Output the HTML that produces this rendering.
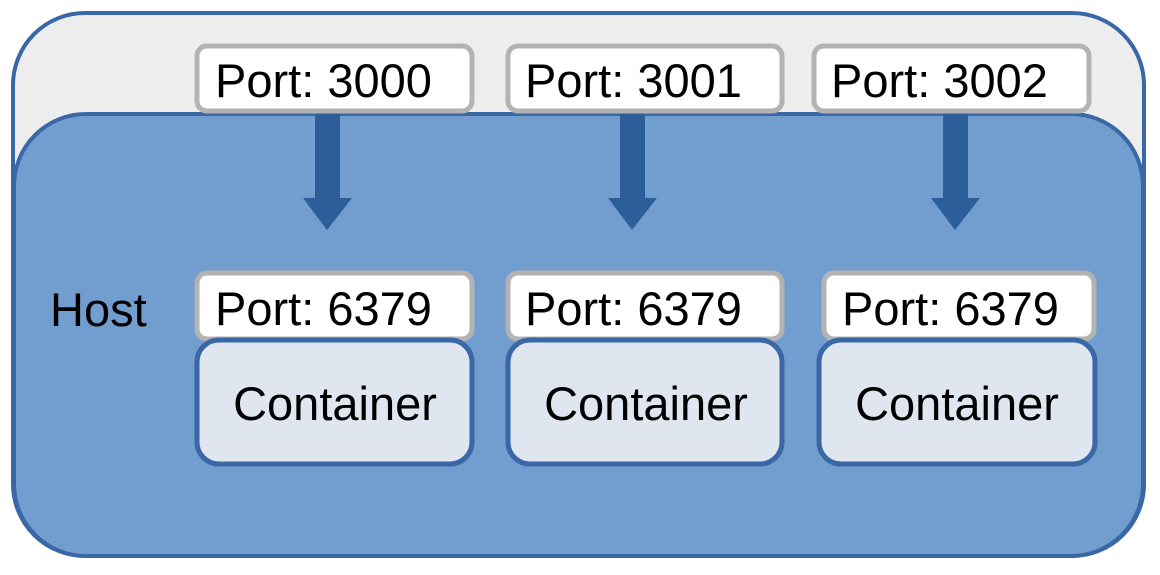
<!DOCTYPE html>
<html><head><style>html,body{margin:0;padding:0;background:#fff;}svg{display:block}</style></head>
<body>
<svg width="1160" height="575" xmlns="http://www.w3.org/2000/svg" font-family="Liberation Sans, Arial, sans-serif">
<rect x="13" y="13" width="1131" height="543" rx="72" fill="#ededed" stroke="#3a67a6" stroke-width="4"/>
<rect x="14" y="114" width="1129" height="442" rx="72" fill="#729ecf" stroke="#3a67a6" stroke-width="4"/>
<g fill="#2c5f99">
<rect x="315" y="112" width="25" height="87"/><polygon points="303,198 352,198 327,230"/>
<rect x="620" y="112" width="25" height="87"/><polygon points="608,198 657,198 632,230"/>
<rect x="943" y="112" width="25" height="87"/><polygon points="931,198 980,198 955,230"/>
</g>
<g fill="#fff" stroke="#b3b3b3" stroke-width="5">
<rect x="197" y="46" width="275" height="65" rx="10"/>
<rect x="508" y="46" width="274" height="65" rx="10"/>
<rect x="814" y="46" width="275" height="65" rx="10"/>
<rect x="197" y="273" width="275" height="66" rx="10"/>
<rect x="508" y="273" width="274" height="66" rx="10"/>
<rect x="824" y="273" width="270" height="66" rx="10"/>
</g>
<g fill="#dfe6ef" stroke="#3a67a6" stroke-width="5">
<rect x="197" y="340" width="275" height="124" rx="22"/>
<rect x="508" y="340" width="274" height="124" rx="22"/>
<rect x="819" y="340" width="276" height="124" rx="22"/>
</g>
<g font-size="47" fill="#000">
<text x="215" y="97">Port: 3000</text>
<text x="525" y="97">Port: 3001</text>
<text x="831" y="97">Port: 3002</text>
<text x="215" y="325">Port: 6379</text>
<text x="525" y="325">Port: 6379</text>
<text x="842" y="325">Port: 6379</text>
<text x="50" y="326">Host</text>
<text x="335" y="420" text-anchor="middle">Container</text>
<text x="646" y="420" text-anchor="middle">Container</text>
<text x="957" y="420" text-anchor="middle">Container</text>
</g>
</svg>
</body></html>
